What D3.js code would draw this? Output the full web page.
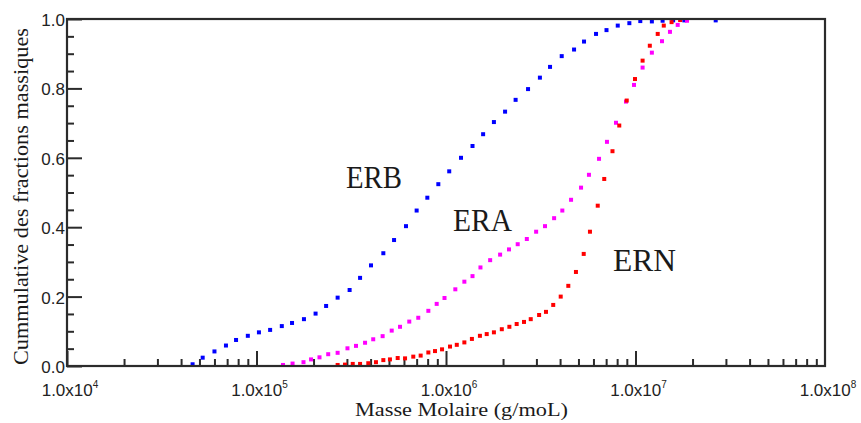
<!DOCTYPE html>
<html>
<head>
<meta charset="utf-8">
<script src="https://cdn.jsdelivr.net/npm/d3@7"></script>
<style>
  body { margin: 0; background: #fff; }
  .tick line { stroke: #2b2b2b; stroke-width: 2; }
  .domain { display: none; }
</style>
</head>
<body>
<div id="chart"></div>
<script>
// values (mass in g/mol, cumulative mass fraction)
var erbMass = [4.6e4, 5.2e4, 6.0e4, 6.9e4, 7.8e4, 9.0e4, 1.03e5, 1.18e5, 1.36e5, 1.54e5, 1.78e5, 2.05e5, 2.33e5, 2.68e5, 3.10e5, 3.52e5,
    4.02e5, 4.67e5, 5.32e5, 6.15e5, 7.00e5, 7.97e5, 9.11e5, 1.04e6, 1.20e6, 1.38e6, 1.57e6, 1.79e6, 2.05e6, 2.33e6, 2.71e6, 3.13e6, 3.54e6,
    4.08e6, 4.74e6, 5.35e6, 6.19e6, 7.03e6, 8.06e6, 9.28e6, 1.06e7, 1.22e7, 1.39e7, 1.58e7, 1.81e7, 2.65e7];
var erbFrac = [0.005, 0.024, 0.042, 0.059, 0.075, 0.087, 0.097, 0.104, 0.115, 0.124, 0.135, 0.151, 0.173, 0.197, 0.219, 0.254,
    0.290, 0.325, 0.363, 0.403, 0.448, 0.485, 0.524, 0.561, 0.600, 0.634, 0.668, 0.703, 0.733, 0.767, 0.798, 0.831, 0.862,
    0.893, 0.912, 0.935, 0.957, 0.968, 0.981, 0.988, 0.994, 0.993, 0.995, 0.996, 0.996, 0.996];

var eraMass = [1.38e5, 1.55e5, 1.77e5, 1.94e5, 2.15e5, 2.39e5, 2.68e5, 3.02e5, 3.35e5, 3.74e5, 4.13e5, 4.63e5, 5.17e5, 5.72e5, 6.40e5,
    7.14e5, 8.07e5, 8.93e5, 9.82e5, 1.12e6, 1.25e6, 1.38e6, 1.52e6, 1.71e6, 1.93e6, 2.15e6, 2.39e6, 2.67e6, 2.99e6, 3.33e6, 3.72e6,
    4.11e6, 4.57e6, 5.16e6, 5.68e6, 6.42e6, 7.07e6, 7.89e6, 8.91e6, 9.82e6, 1.09e7, 1.22e7, 1.38e7, 1.52e7, 1.67e7, 1.87e7];
var eraFrac = [0.003, 0.007, 0.011, 0.019, 0.025, 0.034, 0.038, 0.051, 0.058, 0.067, 0.077, 0.086, 0.102, 0.113, 0.128,
    0.139, 0.159, 0.179, 0.196, 0.221, 0.243, 0.259, 0.284, 0.305, 0.321, 0.336, 0.351, 0.366, 0.387, 0.403, 0.426,
    0.448, 0.479, 0.514, 0.551, 0.597, 0.646, 0.701, 0.762, 0.810, 0.860, 0.903, 0.936, 0.963, 0.983, 0.995];

var ernMass = [2.68e5, 2.93e5, 3.22e5, 3.52e5, 3.89e5, 4.27e5, 4.67e5, 5.06e5, 5.56e5, 6.08e5, 6.72e5, 7.35e5, 8.07e5, 8.75e5, 9.53e5,
    1.05e6, 1.14e6, 1.25e6, 1.37e6, 1.51e6, 1.64e6, 1.79e6, 1.97e6, 2.16e6, 2.36e6, 2.58e6, 2.80e6, 3.10e6, 3.37e6, 3.68e6,
    4.03e6, 4.42e6, 4.85e6, 5.33e6, 5.75e6, 6.32e6, 6.84e6, 7.56e6, 8.21e6, 8.99e6, 9.94e6, 1.09e7, 1.19e7, 1.31e7, 1.41e7, 1.55e7, 1.72e7];
var ernFrac = [0.003, 0.004, 0.006, 0.006, 0.008, 0.011, 0.017, 0.019, 0.023, 0.022, 0.027, 0.030, 0.039, 0.043, 0.048,
    0.056, 0.061, 0.068, 0.078, 0.087, 0.092, 0.097, 0.106, 0.113, 0.121, 0.127, 0.135, 0.147, 0.156, 0.176,
    0.200, 0.231, 0.271, 0.323, 0.387, 0.462, 0.539, 0.619, 0.693, 0.765, 0.827, 0.880, 0.923, 0.957, 0.981, 0.991, 0.997];

var seriesNames = ["ERB", "ERA", "ERN"];
var seriesColors = ["#0000ff", "#ff00ff", "#ff0000"];
var xDecades = [1e4, 1e5, 1e6, 1e7, 1e8];
var xExponents = ["4", "5", "6", "7", "8"];
var yTicks = [0, 0.2, 0.4, 0.6, 0.8, 1.0];

var width = 861, height = 423;
var plotL = 67, plotR = 825, plotT = 19, plotB = 366;

var svg = d3.select("#chart").append("svg")
    .attr("width", width)
    .attr("height", height);

var x = d3.scaleLog().domain([1e4, 1e8]).range([plotL, plotR]);
var y = d3.scaleLinear().domain([0, 1]).range([plotB, plotT]);

// minor ticks 2..9 of every decade
var xMinor = [];
xDecades.slice(0, 4).forEach(function(d) {
    for (var k = 2; k <= 9; k++) xMinor.push(d * k);
});
var yMinor = d3.range(0, 1.0001, 0.05).filter(function(v) {
    return Math.abs(v * 5 - Math.round(v * 5)) > 0.01;
});

svg.append("g").attr("transform", "translate(0," + plotB + ")")
    .call(d3.axisBottom(x).tickValues(xMinor).tickSize(-7).tickFormat(""));
svg.append("g").attr("transform", "translate(0," + plotB + ")")
    .call(d3.axisBottom(x).tickValues(xDecades.slice(0, 4)).tickSize(-15).tickFormat(""));
svg.append("g").attr("transform", "translate(" + plotL + ",0)")
    .call(d3.axisLeft(y).tickValues(yMinor).tickSize(-7).tickFormat(""));
svg.append("g").attr("transform", "translate(" + plotL + ",0)")
    .call(d3.axisLeft(y).tickValues(yTicks).tickSize(-15).tickFormat(""));

// tick labels
var tickFont = "'Liberation Sans', Arial, sans-serif";
xDecades.forEach(function(d, i) {
    var t = svg.append("text")
        .attr("x", x(d) + 3)
        .attr("y", 396)
        .attr("text-anchor", "middle")
        .style("font-family", tickFont)
        .style("font-size", "17px")
        .style("fill", "#222")
        .text("1.0x10");
    t.append("tspan")
        .attr("dy", -8)
        .style("font-size", "10px")
        .text(xExponents[i]);
});
yTicks.forEach(function(v) {
    svg.append("text")
        .attr("x", 65)
        .attr("y", y(v) + 7)
        .attr("text-anchor", "end")
        .style("font-family", tickFont)
        .style("font-size", "17px")
        .style("fill", "#222")
        .text(v.toFixed(1));
});

// points
var allMass = [erbMass, eraMass, ernMass];
var allFrac = [erbFrac, eraFrac, ernFrac];
allMass.forEach(function(masses, s) {
    var pts = masses.map(function(m, i) { return [m, allFrac[s][i]]; });
    svg.append("g").selectAll("rect")
        .data(pts)
        .join("rect")
        .attr("x", function(d) { return x(d[0]) - 2; })
        .attr("y", function(d) { return y(d[1]) - 2; })
        .attr("width", 4)
        .attr("height", 4)
        .attr("fill", seriesColors[s]);
});

// frame
svg.append("rect")
    .attr("x", plotL)
    .attr("y", plotT)
    .attr("width", plotR - plotL)
    .attr("height", plotB - plotT)
    .attr("fill", "none")
    .attr("stroke", "#2b2b2b")
    .attr("stroke-width", 2.2);

// series labels
var serif = "'Liberation Serif', 'Times New Roman', serif";
var labelPos = [[346, 188, 56], [453, 231, 59], [613, 271, 63]];
seriesNames.forEach(function(name, i) {
    svg.append("text")
        .attr("x", labelPos[i][0])
        .attr("y", labelPos[i][1])
        .attr("textLength", labelPos[i][2])
        .attr("lengthAdjust", "spacingAndGlyphs")
        .style("font-family", serif)
        .style("font-size", "31px")
        .style("fill", "#1a1a1a")
        .text(name);
});

// axis titles
svg.append("text")
    .attr("x", 355)
    .attr("y", 416)
    .attr("textLength", 213)
    .attr("lengthAdjust", "spacingAndGlyphs")
    .style("font-family", serif)
    .style("font-size", "19px")
    .style("fill", "#1a1a1a")
    .text("Masse Molaire (g/moL)");

svg.append("text")
    .attr("transform", "translate(28,365) rotate(-90)")
    .attr("textLength", 337)
    .attr("lengthAdjust", "spacingAndGlyphs")
    .style("font-family", serif)
    .style("font-size", "22px")
    .style("fill", "#1a1a1a")
    .text("Cummulative des fractions massiques");
</script>
</body>
</html>
